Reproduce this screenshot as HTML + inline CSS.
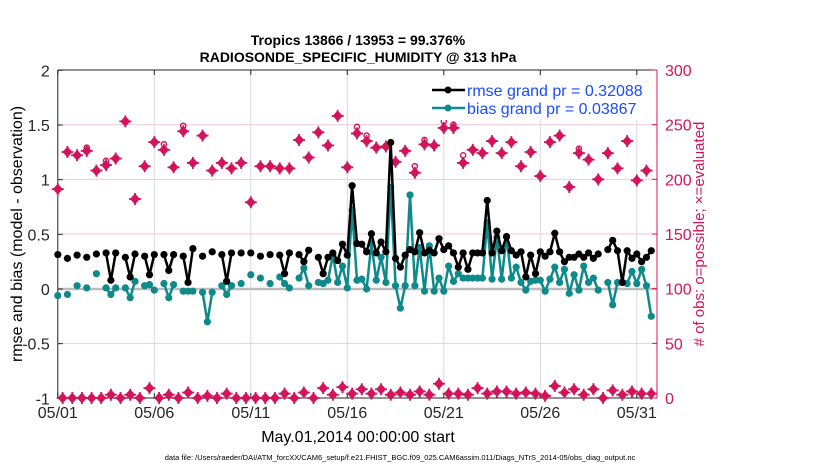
<!DOCTYPE html>
<html><head><meta charset="utf-8">
<style>
body{margin:0;background:#fff;}
svg text{font-family:"Liberation Sans",sans-serif;}
</style></head>
<body>
<svg id="chart" width="830" height="470" viewBox="0 0 830 470" xmlns="http://www.w3.org/2000/svg">
<rect width="830" height="470" fill="#fff"/>
<g id="grid"></g>
<g id="axes"></g>
<g id="marks"></g>
<text x="358" y="45" text-anchor="middle" font-size="14" font-weight="bold">Tropics 13866 / 13953 = 99.376%</text>
<text x="358" y="62" text-anchor="middle" font-size="14" font-weight="bold">RADIOSONDE_SPECIFIC_HUMIDITY @ 313 hPa</text>
<text x="358" y="442" text-anchor="middle" font-size="16">May.01,2014 00:00:00 start</text>
<text x="400" y="460" text-anchor="middle" font-size="7.5">data file: /Users/raeder/DAI/ATM_forcXX/CAM6_setup/f.e21.FHIST_BGC.f09_025.CAM6assim.011/Diags_NTrS_2014-05/obs_diag_output.nc</text>
<text transform="translate(22,234) rotate(-90)" text-anchor="middle" font-size="16">rmse and bias (model - observation)</text>
<text transform="translate(704,234) rotate(-90)" text-anchor="middle" font-size="15" fill="#d4145a"># of obs: o=possible; ×=evaluated</text>
<g id="legend">
  <rect x="428" y="78" width="220" height="42" fill="#fff"/>
  <line x1="432" y1="90" x2="465" y2="90" stroke="#000" stroke-width="2.5"/>
  <circle cx="448" cy="90" r="3.5" fill="#000"/>
  <text x="467" y="96" font-size="16" fill="#1a4cff">rmse grand pr = 0.32088</text>
  <line x1="432" y1="108" x2="465" y2="108" stroke="#0e8a8a" stroke-width="2.5"/>
  <circle cx="448" cy="108" r="3.5" fill="#0e8a8a"/>
  <text x="467" y="114" font-size="16" fill="#1a4cff">bias grand pr = 0.03867</text>
</g>
</svg>
<script>
const n=null;
const rmse=[.315,n,.28,n,.31,n,.29,n,.32,n,.33,.08,.33,n,.29,.11,.32,n,.30,.13,.315,n,.315,.17,.315,n,.30,.06,.37,n,.30,n,.34,n,.315,.07,.33,n,.33,n,.33,n,.30,n,.315,n,.31,.14,.33,n,.315,.25,.355,n,.29,.14,.29,.33,.26,.41,.31,.945,.415,.41,.34,.505,.33,.43,.34,1.34,.28,.20,.31,.36,.34,.515,.33,.355,.33,.46,.36,.395,.33,.20,.33,.18,.33,.33,.33,.81,.33,.53,.35,.48,.35,.31,.34,.11,.31,.14,.34,.30,.34,.51,.34,.25,.29,.29,.32,.29,.33,.28,.32,n,.36,.445,.35,.06,.35,.28,.32,.25,.29,.35];
const bias=[-.06,n,-.05,n,.03,n,.01,n,.14,n,.01,-.05,.01,n,.01,-.08,.07,n,.03,.04,-.01,n,.05,-.08,.04,n,-.02,-.02,-.02,n,-.03,-.3,-.03,n,.03,-.05,.03,n,.05,n,.13,n,.10,n,.05,n,.11,.05,.01,n,.10,.19,.03,n,.06,.05,.08,.31,.06,.21,.01,.72,.08,.09,0,.415,.08,.29,.06,.93,.03,-.175,.03,.86,.03,.38,-.02,.395,-.02,.1,-.02,.21,.07,.14,.1,.1,.1,.1,.1,.605,.09,.475,.09,.475,.1,.2,.06,-.01,.07,.08,.08,-.02,.09,.2,.06,.18,-.04,.13,-.01,.21,.06,.1,-.01,n,.06,-.145,.06,.06,.05,.16,.05,.18,.03,-.25];
const obsEvalEven=[191,225,222,226,208,213,219,253,182,212,234,227,211,244,215,240,208,215,210,215,179,212,212,210,210,236,220,243,231,258,211,242,235,229,230,216,226,206,232,231,247,247,215,227,224,235,224,234,212,225,203,234,240,193,224,218,200,224,210,235,199,208];
const obsPossEven=[191,225,222,229,208,217,219,253,182,212,234,232,211,249,215,240,208,215,210,215,179,212,212,210,210,236,220,243,231,258,211,248,240,229,230,216,226,212,236,231,253,250,222,227,224,235,224,234,212,225,203,234,240,193,228,218,200,224,210,235,199,208];
const obsOdd=[0,0,0,0,0,3,0,3,0,9,0,3,0,5,0,2,0,4,0,0,0,0,0,4,0,5,0,9,3,10,4,8,4,8,3,5,3,6,3,13,4,4,3,9,4,6,6,4,5,4,2,11,5,8,3,8,0,7,3,6,4,4];
const dayTicks=[0,5,10,15,20,25,30];
const dayLabels=["05/01","05/06","05/11","05/16","05/21","05/26","05/31"];
const leftTicks=[-1,-0.5,0,0.5,1,1.5,2];
const rightTicks=[0,50,100,150,200,250,300];

const X0=57.8,X1=657,Y0=70,Y1=398;
function xS(day){return X0+day*19.3;}
function xK(k){return xS(k/4);}
function yL(v){return 289-(v)*(328/3);}
function yR(c){return Y1-c*(328/300);}
const NS="http://www.w3.org/2000/svg";
function mk(tag,attrs,parent){const e=document.createElementNS(NS,tag);for(const a in attrs)e.setAttribute(a,attrs[a]);parent.appendChild(e);return e;}
const grid=document.getElementById('grid'),axes=document.getElementById('axes'),marks=document.getElementById('marks');
const PINK="#d4145a",TEAL="#0e8a8a";

rightTicks.forEach(t=>{if(t>0&&t<300){const l=mk('line',{x1:X0,x2:X1,y1:yR(t),y2:yR(t),stroke:'#f5c9d8','stroke-width':1},grid);

}});
dayTicks.forEach(d=>{if(d>0){const l=mk('line',{x1:xS(d),x2:xS(d),y1:Y0,y2:Y1,stroke:'#d9d9d9','stroke-width':1},grid);

}});
const zl=mk('line',{x1:X0,x2:X1,y1:yL(0),y2:yL(0),stroke:'#bdbdbd','stroke-width':2.5},grid);



const ab=mk('path',{d:`M${X0},${Y0}H${X1}M${X0},${Y0}V${Y1}H${X1}`,fill:'none',stroke:'#262626','stroke-width':1},axes);


const ra=mk('line',{x1:X1,x2:X1,y1:Y0,y2:Y1,stroke:PINK,'stroke-width':1},axes);


dayTicks.forEach((d,i)=>{mk('line',{x1:xS(d),x2:xS(d),y1:Y1,y2:Y1-5,stroke:'#262626'},axes);mk('line',{x1:xS(d),x2:xS(d),y1:Y0,y2:Y0+5,stroke:'#262626'},axes);
const t=mk('text',{x:xS(d),y:Y1+20,'text-anchor':'middle','font-size':16,fill:'#262626'},axes);t.textContent=dayLabels[i];

});
leftTicks.forEach(v=>{mk('line',{x1:X0,x2:X0+5,y1:yL(v),y2:yL(v),stroke:'#262626'},axes);
const t=mk('text',{x:X0-8,y:yL(v)+6,'text-anchor':'end','font-size':16,fill:'#262626'},axes);t.textContent=String(v);

});
rightTicks.forEach(c=>{mk('line',{x1:X1,x2:X1-5,y1:yR(c),y2:yR(c),stroke:PINK},axes);
const t=mk('text',{x:X1+8,y:yR(c)+6,'font-size':16,fill:PINK},axes);t.textContent=String(c);

});

function star(x,y,name){const g=mk('g',{},marks);


mk('polygon',{points:`${x},${y-5.5} ${x+5},${y} ${x},${y+5.5} ${x-5},${y}`,fill:PINK},g);
mk('path',{d:`M${x-6},${y}H${x+6}M${x},${y-6}V${y+6}`,stroke:PINK,'stroke-width':1.8},g);}
obsEvalEven.forEach((c,i)=>{const x=xK(i*2);
if(obsPossEven[i]!==c){const o=mk('circle',{cx:x,cy:yR(obsPossEven[i]),r:2.6,fill:'none',stroke:PINK,'stroke-width':1.4},marks);

}
star(x,yR(c),'obs-evaluated-marker');});
obsOdd.forEach((c,i)=>{star(xK(i*2+1),yR(c),'obs-evaluated-marker');});

function series(vals,color,name){let d='';let pen=false;
vals.forEach((v,k)=>{if(v===null){pen=false;return;}d+=(pen?'L':'M')+xK(k).toFixed(1)+','+yL(v).toFixed(1);pen=true;});
const p=mk('path',{d:d,fill:'none',stroke:color,'stroke-width':2.5,'stroke-linejoin':'round'},marks);


vals.forEach((v,k)=>{if(v===null)return;const c=mk('circle',{cx:xK(k),cy:yL(v),r:3.6,fill:color},marks);

});}
series(bias,TEAL,'bias');
series(rmse,'#000','rmse');
document.getElementById('chart').appendChild(document.getElementById('legend'));
</script>
</body></html>
